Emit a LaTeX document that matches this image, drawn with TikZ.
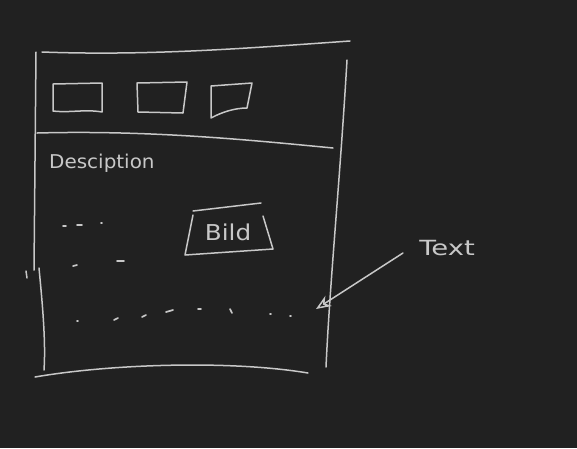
\documentclass[tikz,border=0pt]{standalone}
\usepackage{fontspec}
\setmainfont{DejaVu Sans}
\usetikzlibrary{arrows.meta}
\definecolor{bg}{HTML}{212121}
\definecolor{ink}{HTML}{C8C8C8}
\tikzset{
  pen/.style={draw=ink, line width=1.5pt, line cap=round, line join=round},
  dashmark/.style={draw=ink, line width=1.7pt, line cap=round},
  handtext/.style={text=ink, font=\fontsize{19}{21}\selectfont\addfontfeatures{FakeBold=0}, inner sep=0pt},
}
\begin{document}
\begin{tikzpicture}[x=1pt,y=-1pt]
\fill[bg] (0,0) rectangle (577,448);
\useasboundingbox (0,0) rectangle (577,448);
% frame
\draw[pen] (42,52) .. controls (150,56) and (250,48) .. (350,41);
\draw[pen] (36,52) -- (34,270);
\draw[pen] (39,268) .. controls (42,300) and (46,340) .. (44,370);
\draw[pen] (26,271) -- (27,278);
\draw[pen] (347,60) .. controls (340,180) and (330,280) .. (326,367);
\draw[pen] (35,377) .. controls (110,364) and (230,360) .. (308,373);
\draw[pen] (37,133) .. controls (150,130) and (250,140) .. (333,148);
% header boxes
\draw[pen] (53,84) -- (102,83) -- (102,112) .. controls (85,109) and (70,113) .. (53,111) -- cycle;
\draw[pen] (137,83) -- (187,82) -- (183,113) -- (138,112) -- cycle;
\draw[pen] (211,86) -- (252,83) -- (247,108) .. controls (235,108) and (222,112) .. (211,118) -- cycle;
% description
\node[handtext, anchor=west, xscale=1.05] (desc) at (49,163) {Desciption};
% Bild box
\draw[pen] (193,211) -- (261,203);
\draw[pen] (193,215) -- (185,255) -- (273,249) -- (263,216);
\node[handtext, xscale=1.3, yscale=1.15] (bild) at (228,232) {Bild};
% dashes row 1
\draw[dashmark] (63,226) -- (66,226);
\draw[dashmark] (77,225) -- (82,225);
\draw[dashmark] (101,223) -- (102,223);
% row 2
\draw[dashmark] (73,266) -- (77,265);
\draw[dashmark] (117,261) -- (124,261);
% row 3
\draw[dashmark] (77,321) -- (78,321);
\draw[dashmark] (114,320) -- (118,318);
\draw[dashmark] (142,317) -- (146,315);
\draw[dashmark] (166,312) -- (173,310);
\draw[dashmark] (198,309) -- (201,309);
\draw[dashmark] (230,309) -- (232,313);
\draw[dashmark] (270,314) -- (271,314);
\draw[dashmark] (290,316) -- (291,316);
% arrow and label
\node[handtext, anchor=west, xscale=1.45, yscale=1.1] (txt) at (419,248) {Text};
\coordinate (astart) at (403,253);
\coordinate (tip) at (316,309);
\draw[pen, -{Stealth[open, length=15pt, width=12pt]}] (astart) -- (tip);
\end{tikzpicture}
\end{document}
